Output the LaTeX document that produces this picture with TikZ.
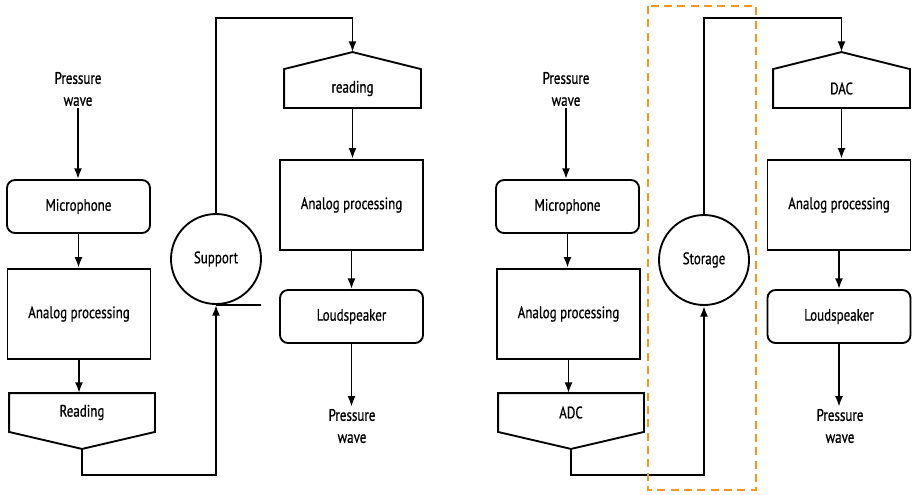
\documentclass[tikz,border=0pt]{standalone}
\usepackage{fontspec}
\setmainfont{PT Sans}[FakeStretch=0.78,FakeBold=0.8]
\usepackage{tikz}
\usetikzlibrary{positioning}
\usetikzlibrary{arrows.meta}

\definecolor{dashorange}{RGB}{247,150,30}

\begin{document}
\begin{tikzpicture}[x=0.75pt,y=-0.75pt,line width=1.4pt,
		txt/.style={font=\fontsize{12.5}{16.5}\selectfont,align=center,inner sep=1pt},
		rbox/.style={txt,draw,rounded corners=6pt,minimum width=107.25pt,minimum height=39.75pt},
		sbox/.style={txt,draw,minimum width=107.25pt,minimum height=68pt},
		pent/.style={txt,minimum height=27.75pt},
		circ/.style={txt,draw,circle,minimum size=67.5pt,inner sep=0pt},
		arr/.style={-{Latex[length=8pt,width=6pt]}}]
				\useasboundingbox (0,0) rectangle (913,494);
				%Nodes (left)
				\node[txt] 		(pw1) 	at (78,89) 	{Pressure\\wave};
				\node[rbox] 	(mic1) 	at (78.5,206.5) 	{Microphone};
				\node[sbox] 	(ana1) 	at (79,314) 	{Analog processing};
				\node[pent,minimum width=108pt] 	(rd1) 	at (82,412.5) 	{Reading};
				\coordinate 	(rd1tip) at ([yshift=-12.75pt]rd1.south);
				\node[circ] 	(sup) 	at (216,259) 	{Support};
				\node[pent,minimum width=101.25pt] 	(rd2) 	at (352.5,88.5) 	{reading};
				\coordinate 	(rd2tip) at ([yshift=12.75pt]rd2.north);
				\node[sbox] 	(ana2) 	at (351.5,205) 	{Analog processing};
				\node[rbox] 	(lsp1) 	at (351.5,316.5) 	{Loudspeaker};
				\node[txt] 		(pw2) 	at (352,426) 	{Pressure\\wave};
				\coordinate 	(tan) 	at (261,303);

				%Nodes (right)
				\node[txt] 		(pw3) 	at (566,89) 	{Pressure\\wave};
				\node[rbox] 	(mic2) 	at (567.5,206.5) 	{Microphone};
				\node[sbox] 	(ana3) 	at (568.5,314) 	{Analog processing};
				\node[pent,minimum width=108pt] 	(adc) 	at (571,412.5) 	{ADC};
				\coordinate 	(adctip) at ([yshift=-12.75pt]adc.south);
				\node[circ] 	(sto) 	at (704,260) 	{Storage};
				\node[pent,minimum width=101.25pt] 	(dac) 	at (841.5,88.5) 	{DAC};
				\coordinate 	(dactip) at ([yshift=12.75pt]dac.north);
				\node[sbox] 	(ana4) 	at (839,205) 	{Analog processing};
				\node[rbox] 	(lsp2) 	at (839,316.5) 	{Loudspeaker};
				\node[txt] 		(pw4) 	at (840,426) 	{Pressure\\wave};

				%Shapes
				\draw (rd1.north west) -- (rd1.north east) -- (rd1.south east) -- (rd1tip) -- (rd1.south west) -- cycle;
				\draw (rd2.south west) -- (rd2.south east) -- (rd2.north east) -- (rd2tip) -- (rd2.north west) -- cycle;
				\draw (adc.north west) -- (adc.north east) -- (adc.south east) -- (adctip) -- (adc.south west) -- cycle;
				\draw (dac.south west) -- (dac.south east) -- (dac.north east) -- (dactip) -- (dac.north west) -- cycle;

				%Lines (left)
				\draw[arr] (pw1.south) -- (pw1.south |- mic1.north);
				\draw[arr] (mic1.south) -- (mic1.south |- ana1.north);
				\draw[arr] (ana1.south) -- (ana1.south |- rd1.north);
				\draw[arr] (rd1tip) -- (rd1tip |- 0,475) -| (sup.south);
				\draw (sup.south) -- (sup.south -| tan);
				\draw[arr] (sup.north) -- (sup.north |- 0,18) -| (rd2tip);
				\draw[arr] (rd2.south) -- (rd2.south |- ana2.north);
				\draw[arr] (ana2.south) -- (ana2.south |- lsp1.north);
				\draw[arr] (lsp1.south) -- (lsp1.south |- pw2.north);

				%Lines (right)
				\draw[arr] (pw3.south) -- (pw3.south |- mic2.north);
				\draw[arr] (mic2.south) -- (mic2.south |- ana3.north);
				\draw[arr] (ana3.south) -- (ana3.south |- adc.north);
				\draw[arr] (adctip) -- (adctip |- 0,475) -| (sto.south);
				\draw[arr] (sto.north) -- (sto.north |- 0,18) -| (dactip);
				\draw[arr] (dac.south) -- (dac.south |- ana4.north);
				\draw[arr] (ana4.south) -- (ana4.south |- lsp2.north);
				\draw[arr] (lsp2.south) -- (lsp2.south |- pw4.north);

				%Storage box
				\draw[dashorange,line width=1.1pt,dash pattern=on 6pt off 4pt] (648,6) rectangle (756,490);
\end{tikzpicture}
\end{document}
